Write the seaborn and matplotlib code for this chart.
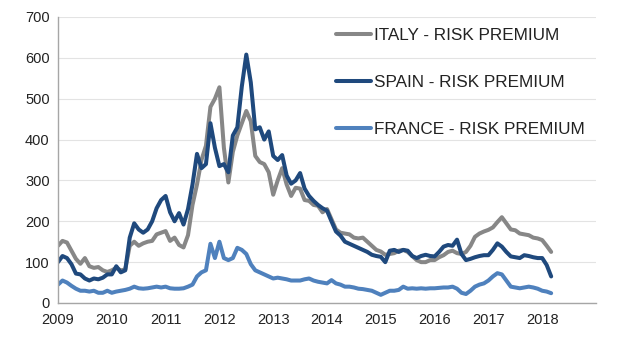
import numpy as np
import pandas as pd
import matplotlib
matplotlib.use("Agg")
import matplotlib.pyplot as plt
import seaborn as sns

# Monthly readings, Jan 2009 .. Mar 2018
start_year = 2009
italy = [
    140, 152, 148, 128, 108, 96, 110, 90, 86, 88, 80, 76,
    80, 86, 80, 82, 140, 150, 140, 146, 150, 152, 168, 172,
    176, 152, 160, 142, 136, 166, 240, 290, 350, 385, 480, 500,
    528, 380, 295, 370, 410, 440, 470, 445, 360, 345, 340, 320,
    265, 300, 330, 290, 262, 282, 280, 252, 250, 240, 238, 222,
    230, 205, 180, 172, 170, 168, 160, 158, 160, 150, 140, 130,
    126, 118, 120, 122, 128, 130, 125, 115, 105, 100, 100, 105,
    105, 112, 117, 125, 128, 122, 120, 125, 140, 162, 170, 175,
    179, 185, 198, 210, 195, 180, 178, 170, 168, 166, 160, 158,
    154, 140, 125,
]
spain = [
    100, 115, 110, 95, 72, 70, 60, 55, 60, 58, 62, 70,
    70, 90, 75, 80, 160, 195, 180, 172, 180, 200, 232, 252,
    262, 222, 200, 220, 192, 230, 290, 365, 330, 340, 440, 380,
    335, 340, 320, 410, 430, 530, 608, 540, 425, 430, 400, 420,
    360, 350, 362, 312, 292, 300, 318, 280, 262, 250, 240, 232,
    226, 200, 175, 165, 150, 145, 140, 135, 130, 125, 118, 115,
    113, 100, 128, 130, 125, 130, 128, 115, 110, 115, 118, 115,
    114, 125, 138, 142, 140, 155, 120, 105, 108, 112, 115, 117,
    117, 130, 146, 138, 125, 114, 112, 110, 117, 115, 112, 110,
    110, 93, 65,
]
france = [
    45, 55, 50, 42, 35, 30, 30, 28, 30, 25, 25, 30,
    25, 28, 30, 32, 35, 40, 36, 35, 36, 38, 40, 38,
    40, 36, 35, 35, 36, 40, 45, 65, 75, 80, 145, 110,
    150, 110, 105, 110, 135, 130, 120, 95, 80, 75, 70, 65,
    60, 62, 60, 58, 55, 55, 55, 58, 60, 55, 52, 50,
    48, 56, 48, 45, 40, 40, 38, 35, 34, 32, 30, 25,
    20, 25, 30, 30, 32, 40, 35, 36, 35, 36, 35, 36,
    36, 37, 38, 38, 40, 35, 25, 22, 30, 40, 45, 48,
    55, 65, 73, 70, 55, 40, 38, 36, 38, 40, 38, 35,
    30, 28, 24,
]
labels = ["ITALY - RISK PREMIUM", "SPAIN - RISK PREMIUM", "FRANCE - RISK PREMIUM"]
year_ticks = list(range(2009, 2019))
y_ticks = [0, 100, 200, 300, 400, 500, 600, 700]
colors = ["#878787", "#1f497d", "#4f81bd"]

t = start_year + np.arange(len(italy)) / 12.0
frames = []
for lab, vals in zip(labels, [italy, spain, france]):
    frames.append(pd.DataFrame({"t": t, "v": vals, "series": lab}))
df = pd.concat(frames, ignore_index=True)

sns.set_style("white")
plt.rcParams["font.family"] = ["Liberation Sans", "DejaVu Sans"]

fig = plt.figure(figsize=(6.24, 3.44), dpi=100)
ax = fig.add_axes([58 / 624, 1 - 303 / 344, (596 - 58) / 624, (303 - 17) / 344])
sns.lineplot(data=df, x="t", y="v", hue="series", palette=colors,
             linewidth=2.9, ax=ax, legend=True)

ax.set_xlim(2009, 2019)
ax.set_ylim(0, 700)
ax.set_xticks(year_ticks)
ax.set_xticklabels([str(y) for y in year_ticks], fontsize=10.5, color="#222222")
ax.set_yticks(y_ticks)
ax.set_yticklabels([str(y) for y in y_ticks], fontsize=10.5, color="#222222")
ax.set_xlabel("")
ax.set_ylabel("")
ax.yaxis.grid(True, color="#e3e3e3", linewidth=0.8)
ax.xaxis.grid(False)
ax.set_axisbelow(True)
for s in ["top", "right"]:
    ax.spines[s].set_visible(False)
for s in ["left", "bottom"]:
    ax.spines[s].set_color("#a6a6a6")
    ax.spines[s].set_linewidth(1.0)
ax.tick_params(axis="both", which="both", length=4, width=0.8, color="#a6a6a6",
               direction="out", pad=3)
ax.tick_params(axis="y", length=3)

leg = ax.legend(loc="upper left", bbox_to_anchor=(336 / 624, 1 - 28 / 344),
                bbox_transform=fig.transFigure, frameon=False, fontsize=12.3,
                handlelength=2.05, handletextpad=0.2, labelspacing=1.88,
                borderaxespad=0, borderpad=0)
for line in leg.get_lines():
    line.set_linewidth(2.9)
for txt in leg.get_texts():
    txt.set_color("#222222")

fig.savefig("out.png", dpi=100)
